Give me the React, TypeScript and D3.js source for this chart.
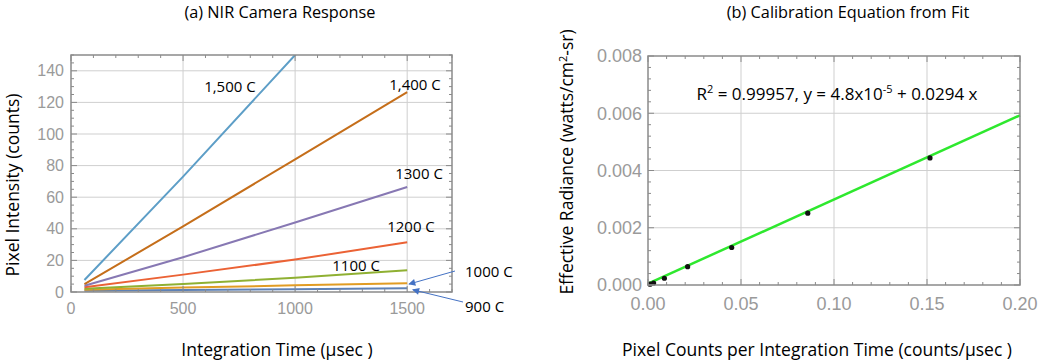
import React from "react";
import * as d3 from "d3";

// (a) camera response: integration time (usec) vs pixel counts per temperature
const timeUs = [60, 500, 1000, 1500];
const temps = ["900 C", "1000 C", "1100 C", "1200 C", "1300 C", "1,400 C", "1,500 C"];
const counts900 = [0.8, 1.3, 1.8, 2.4];
const counts1000 = [1.4, 2.8, 4.2, 5.6];
const counts1100 = [2, 5, 9, 13.8];
const counts1200 = [3, 11, 20.5, 31.5];
const counts1300 = [4, 22, 44, 66.5];
const counts1400 = [5, 41.5, 84, 126.5];
const counts1500 = [7.6, 73, 150, 226];
const lineColors = ["#5E81B5", "#E19C24", "#8FB032", "#EB6235", "#8778B3", "#C56E1A", "#5D9EC7"];
const allCounts = [counts900, counts1000, counts1100, counts1200, counts1300, counts1400, counts1500];

const timeTicks = [0, 500, 1000, 1500];
const countTicks = [0, 20, 40, 60, 80, 100, 120, 140];

// (b) calibration: counts/usec vs effective radiance
const rate = [0.0011, 0.003, 0.0088, 0.0213, 0.045, 0.0859, 0.1516];
const radiance = [0.00003, 0.00007, 0.000235, 0.00064, 0.00131, 0.00251, 0.00444];
const fitX = [0, 0.2];
const fitY = [0.000048, 0.005928];
const rateTicks = [0, 0.05, 0.1, 0.15, 0.2];
const radTicks = [0, 0.002, 0.004, 0.006, 0.008];

const labelFont = "'Open Sans', sans-serif";
const tickFont = "'Liberation Sans', Arial, sans-serif";
const frameColor = "#8a8a8a";
const gridColor = "#cfcfcf";
const tickColor = "#9a9a9a";

function Frame({ x, y, minorX, minorY, majorX, majorY }: any) {
  const [x0, x1] = x.range();
  const [y0, y1] = y.range();
  const marks: any[] = [];
  const add = (vals: number[], len: number, key: string) => {
    vals.forEach((v, i) => {
      const px = x(v);
      marks.push(<line key={key + "b" + i} x1={px} x2={px} y1={y0} y2={y0 - len} />);
      marks.push(<line key={key + "t" + i} x1={px} x2={px} y1={y1} y2={y1 + len} />);
    });
  };
  const addY = (vals: number[], len: number, key: string) => {
    vals.forEach((v, i) => {
      const py = y(v);
      marks.push(<line key={key + "l" + i} x1={x0} x2={x0 + len} y1={py} y2={py} />);
      marks.push(<line key={key + "r" + i} x1={x1} x2={x1 - len} y1={py} y2={py} />);
    });
  };
  add(minorX, 3, "mx");
  add(majorX, 6, "Mx");
  addY(minorY, 3, "my");
  addY(majorY, 6, "My");
  return (
    <g stroke={frameColor}>
      {marks}
      <rect x={x0} y={y1} width={x1 - x0} height={y0 - y1} fill="none" strokeWidth={1.5} />
    </g>
  );
}

function Grid({ x, y, xs, ys }: any) {
  const [x0, x1] = x.range();
  const [y0, y1] = y.range();
  return (
    <g stroke={gridColor} strokeWidth={1}>
      {xs.map((v: number) => (
        <line key={"gx" + v} x1={x(v)} x2={x(v)} y1={y0} y2={y1} />
      ))}
      {ys.map((v: number) => (
        <line key={"gy" + v} x1={x0} x2={x1} y1={y(v)} y2={y(v)} />
      ))}
    </g>
  );
}

function ResponsePanel() {
  const x = d3.scaleLinear().domain([0, 1700]).range([71, 452]);
  const y = d3.scaleLinear().domain([0, 150]).range([292, 55]);
  const line = d3
    .line<number>()
    .x((_, i) => x(timeUs[i]))
    .y((d) => y(d));
  const minorX = d3.range(0, 1701, 100).filter((v) => v % 500 !== 0);
  const minorY = d3.range(0, 151, 5).filter((v) => v % 20 !== 0);
  // [x usec, count, temp index] for labels placed in the plot
  const labelPos: [number, number, number][] = [
    [709, 130, 6],
    [1535, 131, 5],
    [1553, 75, 4],
    [1517, 41, 3],
    [1272, 16.5, 2],
  ];
  return (
    <g>
      <text x={280} y={18} textAnchor="middle" fontFamily={labelFont} fontSize={16.3}>
        (a) NIR Camera Response
      </text>
      <defs>
        <clipPath id="clipA">
          <rect x={71} y={55} width={381} height={237} />
        </clipPath>
        <marker id="arrowHead" viewBox="0 0 10 10" refX={9} refY={5} markerWidth={9} markerHeight={7} orient="auto" markerUnits="userSpaceOnUse">
          <path d="M0,0 L10,5 L0,10 z" fill="#4472C4" />
        </marker>
      </defs>
      <Grid x={x} y={y} xs={[500, 1000, 1500]} ys={countTicks.slice(1)} />
      <g clipPath="url(#clipA)" fill="none" strokeWidth={2}>
        {allCounts.map((vals, i) => (
          <path key={temps[i]} d={line(vals) || ""} stroke={lineColors[i]} />
        ))}
      </g>
      <Frame x={x} y={y} minorX={minorX} minorY={minorY} majorX={timeTicks} majorY={countTicks} />
      <g fontFamily={tickFont} fontSize={16} fill={tickColor}>
        {countTicks.map((v) => (
          <text key={v} x={64} y={y(v)} dy="0.35em" textAnchor="end">
            {v}
          </text>
        ))}
        {timeTicks.map((v) => (
          <text key={v} x={x(v)} y={314} textAnchor="middle">
            {v}
          </text>
        ))}
      </g>
      <g fontFamily={labelFont} fontSize={15}>
        {labelPos.map(([tx, ty, k]) => (
          <text key={k} x={x(tx)} y={y(ty)} dy="0.35em" textAnchor="middle">
            {temps[k]}
          </text>
        ))}
        <text x={465} y={272} dy="0.35em">{temps[1]}</text>
        <text x={465} y={307} dy="0.35em">{temps[0]}</text>
      </g>
      <g stroke="#4472C4" strokeWidth={1}>
        <line x1={455} y1={271} x2={x(1508)} y2={y(5)} markerEnd="url(#arrowHead)" />
        <line x1={463} y1={302} x2={x(1525)} y2={y(1.4)} markerEnd="url(#arrowHead)" />
      </g>
      <text x={13} y={185} transform="rotate(-90 13 185)" textAnchor="middle" dy="0.35em" fontFamily={labelFont} fontSize={17.5}>
        Pixel Intensity (counts)
      </text>
      <text x={277} y={356} textAnchor="middle" fontFamily={labelFont} fontSize={17.5}>
        Integration Time (µsec )
      </text>
    </g>
  );
}

function CalibrationPanel() {
  const x = d3.scaleLinear().domain([0, 0.2]).range([648, 1020]);
  const y = d3.scaleLinear().domain([0, 0.008]).range([285, 56]);
  const fit = d3
    .line<number>()
    .x((d) => x(d))
    .y((_, i) => y(fitY[i]));
  const minorX = d3.range(0, 21).map((v) => v / 100).filter((_, i) => i % 5 !== 0);
  const minorY = d3.range(0, 21).map((v) => v * 0.0004).filter((_, i) => i % 5 !== 0);
  return (
    <g>
      <text x={848} y={18} textAnchor="middle" fontFamily={labelFont} fontSize={16.3}>
        (b) Calibration Equation from Fit
      </text>
      <Grid x={x} y={y} xs={[0.05, 0.1, 0.15]} ys={[0.002, 0.004, 0.006]} />
      <path d={fit(fitX) || ""} stroke="#2ee82e" strokeWidth={2.5} fill="none" />
      {rate.map((r, i) => (
        <circle key={i} cx={x(r)} cy={y(radiance[i])} r={2.6} fill="#111" />
      ))}
      <Frame x={x} y={y} minorX={minorX} minorY={minorY} majorX={rateTicks} majorY={radTicks} />
      <g fontFamily={tickFont} fontSize={18} fill={tickColor}>
        {radTicks.map((v) => (
          <text key={v} x={642} y={y(v)} dy="0.35em" textAnchor="end">
            {v.toFixed(3)}
          </text>
        ))}
        {rateTicks.map((v) => (
          <text key={v} x={x(v)} y={310} textAnchor="middle">
            {v.toFixed(2)}
          </text>
        ))}
      </g>
      <text x={837} y={100} textAnchor="middle" fontFamily={labelFont} fontSize={17}>
        R<tspan dy={-7} fontSize={11}>2</tspan>
        <tspan dy={7}> = 0.99957, y = 4.8x10</tspan>
        <tspan dy={-7} fontSize={11}>-5</tspan>
        <tspan dy={7}> + 0.0294 x</tspan>
      </text>
      <text x={567} y={162} transform="rotate(-90 567 162)" textAnchor="middle" dy="0.35em" fontFamily={labelFont} fontSize={17.5}>
        Effective Radiance (watts/cm<tspan dy={-6} fontSize={11}>2</tspan>
        <tspan dy={6}>-sr)</tspan>
      </text>
      <text x={817} y={356} textAnchor="middle" fontFamily={labelFont} fontSize={17.5}>
        Pixel Counts per Integration Time (counts/µsec )
      </text>
    </g>
  );
}

export default function App() {
  return (
    <svg width={1042} height={363} style={{ position: "absolute", left: 0, top: 0, background: "#fff" }}>
      <ResponsePanel />
      <CalibrationPanel />
    </svg>
  );
}
